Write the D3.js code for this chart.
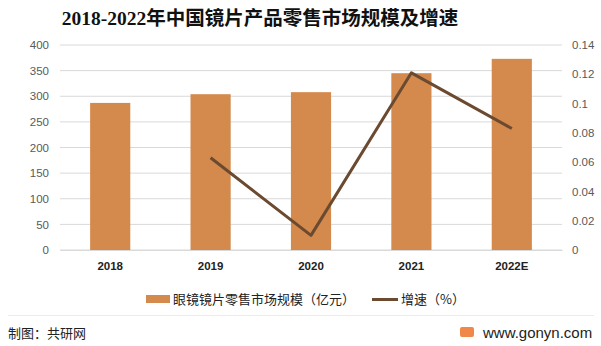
<!DOCTYPE html>
<html><head><meta charset="utf-8">
<script src="https://cdn.jsdelivr.net/npm/d3@7"></script>
<style>body{margin:0;background:#fff}svg{display:block}</style>
</head><body>
<svg id="c" width="601" height="346"></svg>
<script>
const categories = ["2018","2019","2020","2021","2022E"];
const marketSize = [287, 304, 308, 345, 373];
const growth = [null, 0.063, 0.010, 0.121, 0.083];
const leftTicks = [0,50,100,150,200,250,300,350,400];
const rightTicks = [0,0.02,0.04,0.06,0.08,0.1,0.12,0.14];
const title = "2018-2022年中国镜片产品零售市场规模及增速";
const barName = "眼镜镜片零售市场规模（亿元）";
const lineName = "增速（%）";

const svg = d3.select("#c");
const cn = "'Noto Sans CJK SC','Microsoft YaHei',sans-serif";
const x = d3.scaleBand().domain(categories).range([60,562]).paddingInner(0.6).paddingOuter(0.3);
const y = d3.scaleLinear().domain([0,400]).range([250,45]);
const y2 = d3.scaleLinear().domain([0,0.14]).range([250,45]);

svg.append("text").attr("x",260).attr("y",25).attr("text-anchor","middle")
  .style("font-family","'Liberation Serif','Noto Sans CJK SC',serif").style("font-weight","bold")
  .style("font-size","19.5px").attr("fill","#111").text(title);

// grid
svg.append("g").selectAll("line").data(leftTicks).join("line")
  .attr("x1",60).attr("x2",562).attr("y1",d=>y(d)).attr("y2",d=>y(d))
  .attr("stroke","#d9d9d9").attr("stroke-width",1);

// left axis
const gl = svg.append("g").attr("transform","translate(60,0)")
  .call(d3.axisLeft(y).tickValues(leftTicks).tickSize(0).tickPadding(11));
gl.select(".domain").remove();
gl.selectAll("text").style("font-family","'Liberation Sans',Arial,sans-serif").style("font-size","11.5px").attr("fill","#595959");

const gr = svg.append("g").attr("transform","translate(562,0)")
  .call(d3.axisRight(y2).tickValues(rightTicks).tickSize(0).tickPadding(10).tickFormat(d=>String(+d.toFixed(2))));
gr.select(".domain").remove();
gr.selectAll("text").style("font-family","'Liberation Sans',Arial,sans-serif").style("font-size","11.5px").attr("fill","#595959");

// bars
svg.append("g").selectAll("rect").data(categories).join("rect")
  .attr("x",d=>x(d)).attr("width",x.bandwidth())
  .attr("y",(d,i)=>y(marketSize[i])).attr("height",(d,i)=>250-y(marketSize[i]))
  .attr("fill","#d48a4d");

// x axis
const gx = svg.append("g").attr("transform","translate(0,250)")
  .call(d3.axisBottom(x).tickSize(0).tickPadding(12));
gx.select(".domain").attr("stroke","#d9d9d9");
gx.selectAll("text").style("font-family","'Liberation Sans',Arial,sans-serif").style("font-size","11.5px").style("font-weight","bold").attr("fill","#222");

// line
const pts = categories.map((c,i)=>({c,v:growth[i]})).filter(p=>p.v!=null);
svg.append("path").datum(pts)
  .attr("d",d3.line().x(p=>x(p.c)+x.bandwidth()/2).y(p=>y2(p.v)))
  .attr("fill","none").attr("stroke","#6b4a2f").attr("stroke-width",3).attr("stroke-linejoin","round");

// legend
svg.append("rect").attr("x",146).attr("y",295).attr("width",24).attr("height",8).attr("fill","#d48a4d");
svg.append("text").attr("x",173).attr("y",304).style("font-family",cn).style("font-size","13px").attr("fill","#222").text(barName);
svg.append("line").attr("x1",372).attr("x2",398).attr("y1",299.5).attr("y2",299.5).attr("stroke","#6b4a2f").attr("stroke-width",3);
svg.append("text").attr("x",401).attr("y",304).style("font-family",cn).style("font-size","13px").attr("fill","#222").text(lineName);

// footer
svg.append("line").attr("x1",8).attr("x2",594).attr("y1",315.5).attr("y2",315.5).attr("stroke","#ececec");
svg.append("text").attr("x",8).attr("y",338).style("font-family",cn).style("font-size","13px").attr("fill","#222").text("制图：共研网");
svg.append("rect").attr("x",460).attr("y",327).attr("width",14).attr("height",10).attr("rx",2).attr("fill","#f0884a");
svg.append("text").attr("x",483).attr("y",338).style("font-family","'Liberation Sans',Arial,sans-serif").style("font-size","15px").attr("fill","#222").text("www.gonyn.com");
</script>
</body></html>
